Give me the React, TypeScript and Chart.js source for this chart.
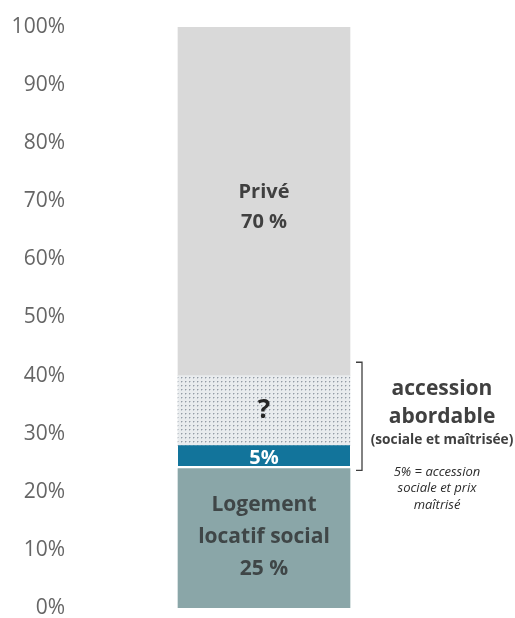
import React, { useEffect, useRef } from "react";
import { Chart, registerables } from "chart.js";

Chart.register(...registerables);

// ---- data ----
const categories = ["Logements"];
const socialValues = [24];
const accessSocialValues = [4];
const unknownValues = [12];
const priveValues = [60];
const tickValues = [0, 10, 20, 30, 40, 50, 60, 70, 80, 90, 100];

const socialLabel = ["Logement", "locatif social", "25 %"];
const accessSocialLabel = ["5%"];
const unknownLabel = ["?"];
const priveLabel = ["Privé", "70 %"];

const bracketRange = [23.7, 42.3];
const noteTitle = ["accession", "abordable"];
const noteSub = ["(sociale et maîtrisée)"];
const noteItalic = ["5% = accession", "sociale et prix", "maîtrisé"];

const FONT = "'Open Sans', sans-serif";

function makeDotPattern(): CanvasPattern | string {
  const c = document.createElement("canvas");
  c.width = 4;
  c.height = 4;
  const g = c.getContext("2d");
  if (!g) return "#e6e8eb";
  g.fillStyle = "#e9ecee";
  g.fillRect(0, 0, 4, 4);
  g.fillStyle = "#949ca5";
  g.fillRect(1, 1, 1, 1);
  g.fillStyle = "#c4cad0";
  g.fillRect(2, 1, 1, 1);
  g.fillRect(1, 2, 1, 1);
  const ctx = document.createElement("canvas").getContext("2d");
  return ctx ? (ctx.createPattern(c, "repeat") as CanvasPattern) : "#e6e8eb";
}

const labelsPlugin = {
  id: "segmentLabels",
  afterDatasetsDraw(chart: any) {
    const ctx = chart.ctx as CanvasRenderingContext2D;
    const yScale = chart.scales.y;
    const specs = [
      { lines: socialLabel, color: "#3f4647", size: 21, weight: "bold", gap: 32, shift: -1 },
      { lines: accessSocialLabel, color: "#ffffff", size: 20, weight: "bold", gap: 0, shift: 1 },
      { lines: unknownLabel, color: "#262626", size: 26, weight: "bold", gap: 0, shift: 0 },
      { lines: priveLabel, color: "#404040", size: 20, weight: "bold", gap: 30, shift: 6 },
    ];
    ctx.save();
    ctx.textAlign = "center";
    ctx.textBaseline = "middle";
    let barRight = 0;
    specs.forEach((s, i) => {
      const el = chart.getDatasetMeta(i).data[0];
      if (!el) return;
      const cx = el.x;
      barRight = el.x + el.width / 2;
      const cy = (el.y + el.base) / 2 + s.shift;
      ctx.font = `${s.weight} ${s.size}px ${FONT}`;
      ctx.fillStyle = s.color;
      const n = s.lines.length;
      s.lines.forEach((t, k) => {
        ctx.fillText(t, cx, cy + (k - (n - 1) / 2) * s.gap);
      });
    });

    // bracket
    const top = yScale.getPixelForValue(bracketRange[1]);
    const bot = yScale.getPixelForValue(bracketRange[0]);
    const bx = barRight + 12;
    ctx.strokeStyle = "#404040";
    ctx.lineWidth = 1.3;
    ctx.beginPath();
    ctx.moveTo(bx - 6, top);
    ctx.lineTo(bx, top);
    ctx.lineTo(bx, bot);
    ctx.lineTo(bx - 6, bot);
    ctx.stroke();

    // notes
    const tx = barRight + 92;
    ctx.fillStyle = "#404040";
    ctx.font = `bold 21px ${FONT}`;
    noteTitle.forEach((t, k) => ctx.fillText(t, tx, top + 27 + k * 28));
    ctx.font = `bold 13.7px ${FONT}`;
    noteSub.forEach((t) => ctx.fillText(t, tx, top + 78));
    ctx.fillStyle = "#2b2b2b";
    ctx.font = `italic 13px ${FONT}`;
    noteItalic.forEach((t, k) => ctx.fillText(t, tx - 5, top + 110 + k * 16.5));
    ctx.restore();
  },
};

export default function App() {
  const ref = useRef<HTMLCanvasElement | null>(null);
  useEffect(() => {
    if (!ref.current) return;
    const pattern = makeDotPattern();
    const chart = new Chart(ref.current, {
      type: "bar",
      data: {
        labels: categories,
        datasets: [
          { label: "Logement locatif social", data: socialValues, backgroundColor: "#8aa6a8", barThickness: 172 },
          {
            label: "Accession sociale",
            data: accessSocialValues,
            backgroundColor: "#12749b",
            borderColor: "#ffffff",
            borderWidth: { top: 0, left: 0, right: 0, bottom: 3 },
            borderSkipped: false,
            barThickness: 172,
          },
          { label: "?", data: unknownValues, backgroundColor: pattern as any, barThickness: 172 },
          { label: "Privé", data: priveValues, backgroundColor: "#d9d9d9", barThickness: 172 },
        ],
      },
      options: {
        responsive: false,
        animation: false,
        layout: { padding: { top: 27, bottom: 10, left: 0, right: 59 } },
        plugins: { legend: { display: false }, tooltip: { enabled: false } },
        scales: {
          x: { stacked: true, display: false },
          y: {
            stacked: true,
            min: 0,
            max: 100,
            afterBuildTicks: (s: any) => {
              s.ticks = tickValues.map((v) => ({ value: v }));
            },
            afterFit: (s: any) => {
              s.width = 72;
              s.paddingTop = 0;
              s.paddingBottom = 0;
            },
            grid: { display: false, drawTicks: false },
            border: { display: false },
            ticks: {
              padding: 7,
              color: "#666666",
              font: { family: FONT, size: 21 },
              callback: (v: any) => `${v}%`,
            },
          },
        },
      },
      plugins: [labelsPlugin],
    });
    return () => chart.destroy();
  }, []);
  return (
    <div style={{ position: "fixed", left: 0, top: 0, width: 515, height: 618, background: "#fff" }}>
      <canvas ref={ref} width={515} height={618} />
    </div>
  );
}
